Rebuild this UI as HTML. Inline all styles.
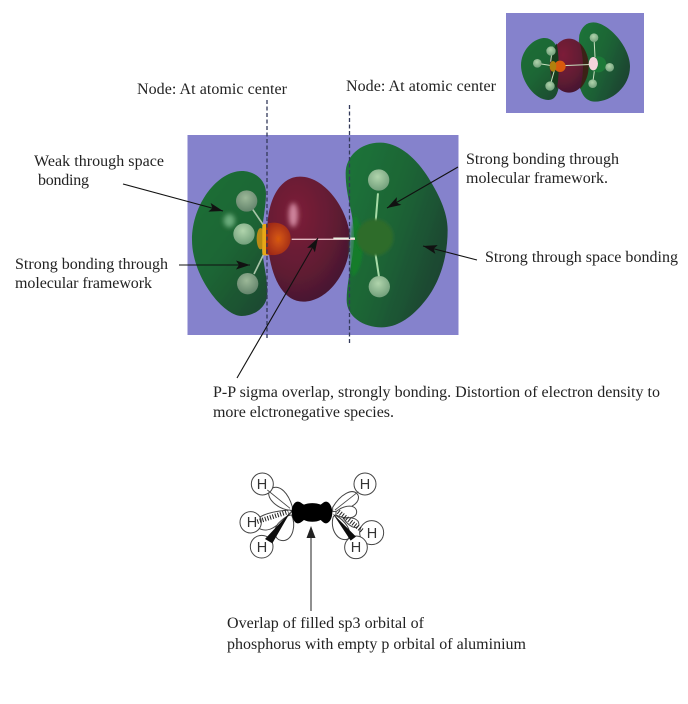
<!DOCTYPE html>
<html><head><meta charset="utf-8">
<style>
html,body{margin:0;padding:0;background:#fff;width:688px;height:704px;overflow:hidden}
svg{display:block}
.t text{font-family:"Liberation Serif",serif;font-size:16px;fill:#222}
.h text{font-family:"Liberation Sans",sans-serif;font-size:14.5px;fill:#333;text-anchor:middle}
</style></head>
<body>
<svg width="688" height="704" viewBox="0 0 688 704" xmlns="http://www.w3.org/2000/svg">
<defs>
<linearGradient id="gl" x1=".1" y1="0" x2=".8" y2="1"><stop offset="0" stop-color="#1f7036"/><stop offset=".55" stop-color="#1e6534"/><stop offset="1" stop-color="#1c4b30"/></linearGradient>
<linearGradient id="gr" x1="0" y1=".1" x2="1" y2=".7"><stop offset="0" stop-color="#1f7439"/><stop offset=".5" stop-color="#1f6435"/><stop offset="1" stop-color="#1b4232"/></linearGradient>
<radialGradient id="red" cx=".35" cy=".3" r=".85"><stop offset="0" stop-color="#7c1f38"/><stop offset=".55" stop-color="#611b33"/><stop offset="1" stop-color="#3a1630"/></radialGradient>
<radialGradient id="hw" cx=".45" cy=".35" r=".7"><stop offset="0" stop-color="#b0d4ac"/><stop offset="1" stop-color="#6e9c78"/></radialGradient>
<radialGradient id="hg" cx=".45" cy=".35" r=".7"><stop offset="0" stop-color="#9cb898"/><stop offset="1" stop-color="#5f8068"/></radialGradient>
<radialGradient id="or" cx=".5" cy=".5" r=".55"><stop offset="0" stop-color="#d85a10"/><stop offset="1" stop-color="#a02a18"/></radialGradient>
<filter id="b0"><feGaussianBlur stdDeviation="0.3"/></filter>
<filter id="b1"><feGaussianBlur stdDeviation="0.5"/></filter>
<filter id="b2" x="-50%" y="-50%" width="200%" height="200%"><feGaussianBlur stdDeviation="7"/></filter>
<filter id="b3" x="-30%" y="-30%" width="160%" height="160%"><feGaussianBlur stdDeviation="4"/></filter>
<marker id="a" viewBox="0 0 14 9" refX="14" refY="4.5" markerWidth="14" markerHeight="9" markerUnits="userSpaceOnUse" orient="auto"><path d="M0 0L14 4.5L0 9L3 4.5Z" fill="#111"/></marker>
</defs>

<!-- inset -->
<rect x="506" y="13" width="138" height="100" fill="#8582cc"/>
<g transform="translate(500,5) scale(.3333)" filter="url(#b1)">
<path d="M130 99C160 97 180 125 180 180C180 235 178 285 145 285C105 285 63 230 63 180C63 140 95 103 130 99Z" fill="url(#gl)"/>
<path d="M280 52C325 52 390 125 390 185C390 245 335 290 285 290C250 290 235 255 235 200C235 160 235 120 238 90C245 65 260 52 280 52Z" fill="url(#gr)"/>
<ellipse cx="207" cy="182" rx="58" ry="81" fill="url(#red)"/>
<path d="M170 115C146 150 146 215 170 252C178 220 178 150 170 115Z" fill="#123c1e"/>
<path d="M240 115C275 150 275 215 240 252C252 210 252 160 240 115Z" fill="#3a2414"/>
<path d="M158 125l-6 45M112 175l50 8M150 243l14-50M282 98l4 75M330 187l-50-8M278 236l8-60M190 182l90-4" stroke="#c8e0c0" stroke-width="3"/>
<circle cx="295" cy="178" r="24" fill="#1c7a38"/>
<circle cx="153" cy="138" r="14" fill="url(#hw)"/><circle cx="112" cy="175" r="13" fill="url(#hw)"/><circle cx="150" cy="243" r="14" fill="url(#hw)"/>
<circle cx="282" cy="98" r="13" fill="url(#hw)"/><circle cx="329" cy="187" r="13" fill="url(#hw)"/><circle cx="278" cy="236" r="13" fill="url(#hw)"/>
<circle cx="180" cy="184" r="17" fill="#d85a10"/><ellipse cx="159" cy="184" rx="10" ry="16" fill="#b08010"/>
<ellipse cx="280" cy="176" rx="14" ry="20" fill="#f4d4dc"/>
</g>

<!-- main -->
<rect x="187.5" y="135" width="271" height="200" fill="#8582cc"/>
<g transform="translate(180,130) scale(.3333)" filter="url(#b1)">
<path d="M185 123C225 123 258 150 258 190C258 235 245 280 245 330C245 390 262 430 262 490C262 530 225 558 185 558C130 558 36 440 36 330C36 220 115 123 185 123Z" fill="url(#gl)"/>
<path d="M600 38C650 38 700 75 740 135C775 190 803 245 803 300C803 390 775 470 725 525C690 565 650 592 605 592C550 592 500 560 500 510C500 450 522 385 522 320C522 250 497 200 497 130C497 80 540 38 600 38Z" fill="url(#gr)"/>
<path d="M360 140C440 140 510 250 510 330C510 430 440 515 370 515C300 515 262 420 262 300C262 210 300 140 360 140Z" fill="url(#red)"/>
<ellipse cx="340" cy="255" rx="14" ry="36" fill="#d890a8" opacity=".9" filter="url(#b2)"/>
<path d="M525 255C505 300 505 400 518 440C555 420 560 300 525 255Z" fill="#0d8428" opacity=".7" filter="url(#b3)"/>
<ellipse cx="148" cy="272" rx="17" ry="20" fill="#78b888" opacity=".85" filter="url(#b2)"/>
<path d="M218 238L250 285M250 375L222 432" stroke="#a8c4a8" stroke-width="5"/>
<path d="M335 328H525" stroke="#e4bcc4" stroke-width="4"/>
<path d="M460 325H525" stroke="#e8f0e0" stroke-width="5"/>
<path d="M594 190L587 275M586 368L597 440" stroke="#a8dca8" stroke-width="6"/>
<circle cx="585" cy="322" r="55" fill="#2e6c2a" filter="url(#b3)"/>
<circle cx="200" cy="213" r="32" fill="url(#hg)"/>
<circle cx="192" cy="312" r="32" fill="url(#hw)"/>
<circle cx="203" cy="461" r="32" fill="url(#hg)"/>
<circle cx="596" cy="150" r="32" fill="url(#hw)"/>
<circle cx="598" cy="470" r="32" fill="url(#hw)"/>
<ellipse cx="242" cy="326" rx="12" ry="32" fill="#b88a12"/>
<rect x="247" y="282" width="20" height="94" rx="6" fill="#e8a818"/>
<path d="M258 282C300 268 332 292 332 325C332 358 300 385 258 372Z" fill="url(#or)"/>
</g>
<path d="M267 100V340" stroke="#333a5a" stroke-width="1.3" stroke-dasharray="4 2.5"/>
<path d="M349.5 105V345" stroke="#333a5a" stroke-width="1.3" stroke-dasharray="4 2.5"/>

<g stroke="#111" stroke-width="1.1" fill="none">
<path d="M123 184L223 211" marker-end="url(#a)"/>
<path d="M179 265H250" marker-end="url(#a)"/>
<path d="M458 167L387 208" marker-end="url(#a)"/>
<path d="M477 260L423 246" marker-end="url(#a)"/>
<path d="M237 378L318 238" marker-end="url(#a)"/>
</g>

<!-- labels -->
<g class="t" filter="url(#b0)" transform="translate(0,1)">
<text x="137" y="93" textLength="150">Node: At atomic center</text>
<text x="346" y="90" textLength="150">Node: At atomic center</text>
<text x="34" y="165" textLength="130">Weak through space</text>
<text x="38" y="184" textLength="51">bonding</text>
<text x="15" y="268" textLength="153">Strong bonding through</text>
<text x="15" y="287" textLength="137">molecular framework</text>
<text x="466" y="163" textLength="153">Strong bonding through</text>
<text x="466" y="182" textLength="142">molecular framework.</text>
<text x="485" y="261" textLength="193">Strong through space bonding</text>
<text x="213" y="396" textLength="447">P-P sigma overlap, strongly bonding. Distortion of electron density to</text>
<text x="213" y="416" textLength="181">more elctronegative species.</text>
<text x="227" y="627" textLength="197">Overlap of filled sp3 orbital of</text>
<text x="227" y="648" textLength="299">phosphorus with empty p orbital of aluminium</text>
</g>

<!-- orbital sketch -->
<g transform="translate(230,460) scale(.3333)" filter="url(#b0)">
<g fill="#fff" stroke="#444" stroke-width="3">
<path d="M187 140C175 100 150 72 125 85C100 100 130 148 187 152Z"/>
<path d="M180 150C150 152 100 158 78 180C72 208 105 218 130 203C155 188 172 172 185 155Z"/>
<path d="M185 165C198 195 190 238 160 242C132 242 128 210 145 190C160 175 175 165 185 165Z"/>
<path d="M308 142C330 105 368 80 384 105C394 132 350 152 308 155Z"/>
<path d="M318 155C345 133 378 133 380 155C380 178 345 178 318 165Z"/>
<path d="M310 170C298 208 325 248 354 237C370 215 345 180 315 165Z"/>
<path d="M340 175C365 170 387 175 387 195C377 212 355 197 340 175Z"/>
<circle cx="425" cy="218" r="36"/>
<circle cx="97" cy="72" r="33"/>
<circle cx="62" cy="187" r="32"/>
<circle cx="95" cy="260" r="34"/>
<circle cx="405" cy="72" r="33"/>
<circle cx="378" cy="262" r="34"/>
</g>
<path d="M112 90L180 145" stroke="#444" stroke-width="2.5"/>
<path d="M385 95L315 150" stroke="#444" stroke-width="2.5"/>
<path d="M82 185L175 155M325 155L400 215" stroke="#222" stroke-width="14" stroke-dasharray="3 5" fill="none"/>
<path d="M105 237L182 155L127 250Z M362 242L308 160L378 230Z" fill="#111"/>
<path d="M185 152C187 135 195 125 203 125C212 125 216 132 222 134C236 128 258 128 272 134C278 130 282 125 288 125C298 125 307 140 307 158C307 175 298 190 288 190C281 190 277 184 272 180C258 187 236 187 222 180C216 184 212 190 203 190C193 190 185 172 185 152Z" fill="#000"/>
</g>
<g class="h" filter="url(#b0)">
<text x="262" y="489">H</text>
<text x="252" y="527">H</text>
<text x="262" y="552">H</text>
<text x="365" y="489">H</text>
<text x="372" y="538">H</text>
<text x="356" y="552">H</text>
</g>
<path d="M311 611V535" stroke="#555" stroke-width="1.3"/>
<path d="M311 526L315.5 538H306.5Z" fill="#222"/>
</svg>
</body></html>
